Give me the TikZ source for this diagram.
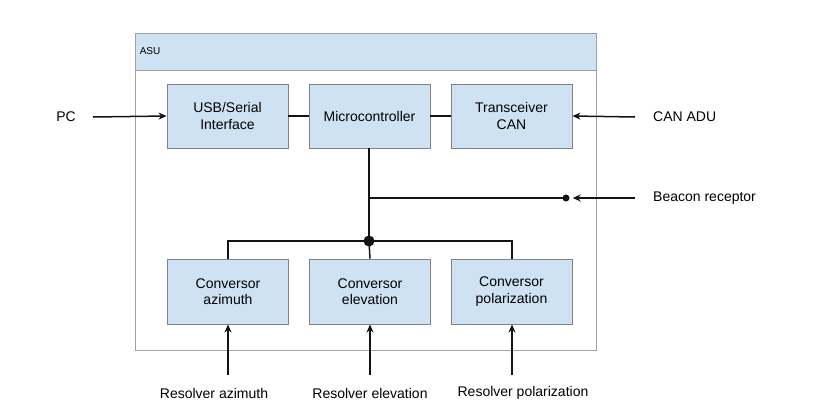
\documentclass[tikz,border=0pt]{standalone}
\usepackage{fontspec}
\setmainfont{Liberation Sans}
\usetikzlibrary{arrows.meta}
\definecolor{boxfill}{RGB}{207,226,243}
\definecolor{boxline}{RGB}{130,130,130}
\definecolor{frameline}{RGB}{160,160,160}
\definecolor{wire}{RGB}{20,20,20}
\tikzset{
  blockbox/.style={draw=boxline, line width=0.9pt, fill=boxfill, minimum width=121pt, minimum height=64pt, align=center, inner sep=0pt, font=\fontsize{14}{16.5}\selectfont},
  wireline/.style={draw=wire, line width=1.5pt},
  arr/.style={wireline, -{Stealth[length=8pt,width=7pt,inset=2.5pt]}},
  lbl/.style={inner sep=0pt, font=\fontsize{14}{16.5}\selectfont},
  dotsmall/.style={circle, fill=wire, inner sep=0pt, minimum size=7pt},
  dotbig/.style={circle, fill=wire, inner sep=0pt, minimum size=11pt},
}
\begin{document}
\begin{tikzpicture}[x=1pt,y=-1pt]
\useasboundingbox[fill=white] (0,0) rectangle (830,418);
% container
\node[draw=frameline, line width=0.9pt, minimum width=461pt, minimum height=317pt, inner sep=0pt] (asu) at (365.5,191.5) {};
\node[draw=frameline, line width=0.9pt, fill=boxfill, minimum width=461pt, minimum height=37pt, inner sep=0pt, anchor=north] (asuhead) at (asu.north) {};
\node[anchor=west, inner sep=0pt, font=\fontsize{10}{12}\selectfont] (asulbl) at ([xshift=5pt]asuhead.west) {ASU};
% blocks
\node[blockbox] (usb) at (227.5,116) {USB/Serial\\Interface};
\node[blockbox] (mcu) at (369.5,116) {Microcontroller};
\node[blockbox] (can) at (511.5,116) {Transceiver\\CAN};
\node[blockbox, minimum height=65pt] (az) at (228,291.5) {Conversor\\azimuth};
\node[blockbox, minimum height=65pt] (el) at (370,291.5) {Conversor\\elevation};
\node[blockbox, minimum height=65pt] (pol) at (511.5,291.5) {Conversor\\polarization};
% outside labels
\node[lbl] (pc) at (66,117) {PC};
\node[lbl, anchor=west] (canadu) at (653,117) {CAN ADU};
\node[lbl, anchor=west] (beacon) at (653,198) {Beacon receptor};
\node[lbl] (raz) at (214,393) {Resolver azimuth};
\node[lbl] (rel) at (370,393) {Resolver elevation};
\node[lbl] (rpol) at (523,393) {Resolver polarization};
% junctions
\node[dotbig] (bus) at (369,241) {};
\node[dotsmall] (bdot) at (566,198) {};
\coordinate (tap) at (369,198);
\coordinate (pcend) at (93,117);
\coordinate (canend) at (635,117);
\coordinate (beaconend) at (635,198);
\coordinate (razend) at (228,375);
\coordinate (relend) at (370,375);
\coordinate (rpolend) at (512,375);
% wires
\draw[wireline] (usb.east) -- (mcu.west);
\draw[wireline] (mcu.east) -- (can.west);
\draw[wireline] (369,0 |- mcu.south) -- (bus.center);
\draw[wireline] (tap) -- (bdot.center);
\draw[wireline] (bus.center) -- (228,241) -- (228,0 |- az.north);
\draw[wireline] (bus.center) -- (512,241) -- (512,0 |- pol.north);
\draw[wireline] (bus.center) -- (370,0 |- el.north);
% arrows
\draw[arr] (pcend) -- (usb.west);
\draw[arr] (canend) -- (can.east);
\draw[arr, shorten >=3pt] (beaconend) -- (bdot.east);
\draw[arr] (razend) -- (228,0 |- az.south);
\draw[arr] (relend) -- (370,0 |- el.south);
\draw[arr] (rpolend) -- (512,0 |- pol.south);
\end{tikzpicture}
\end{document}
